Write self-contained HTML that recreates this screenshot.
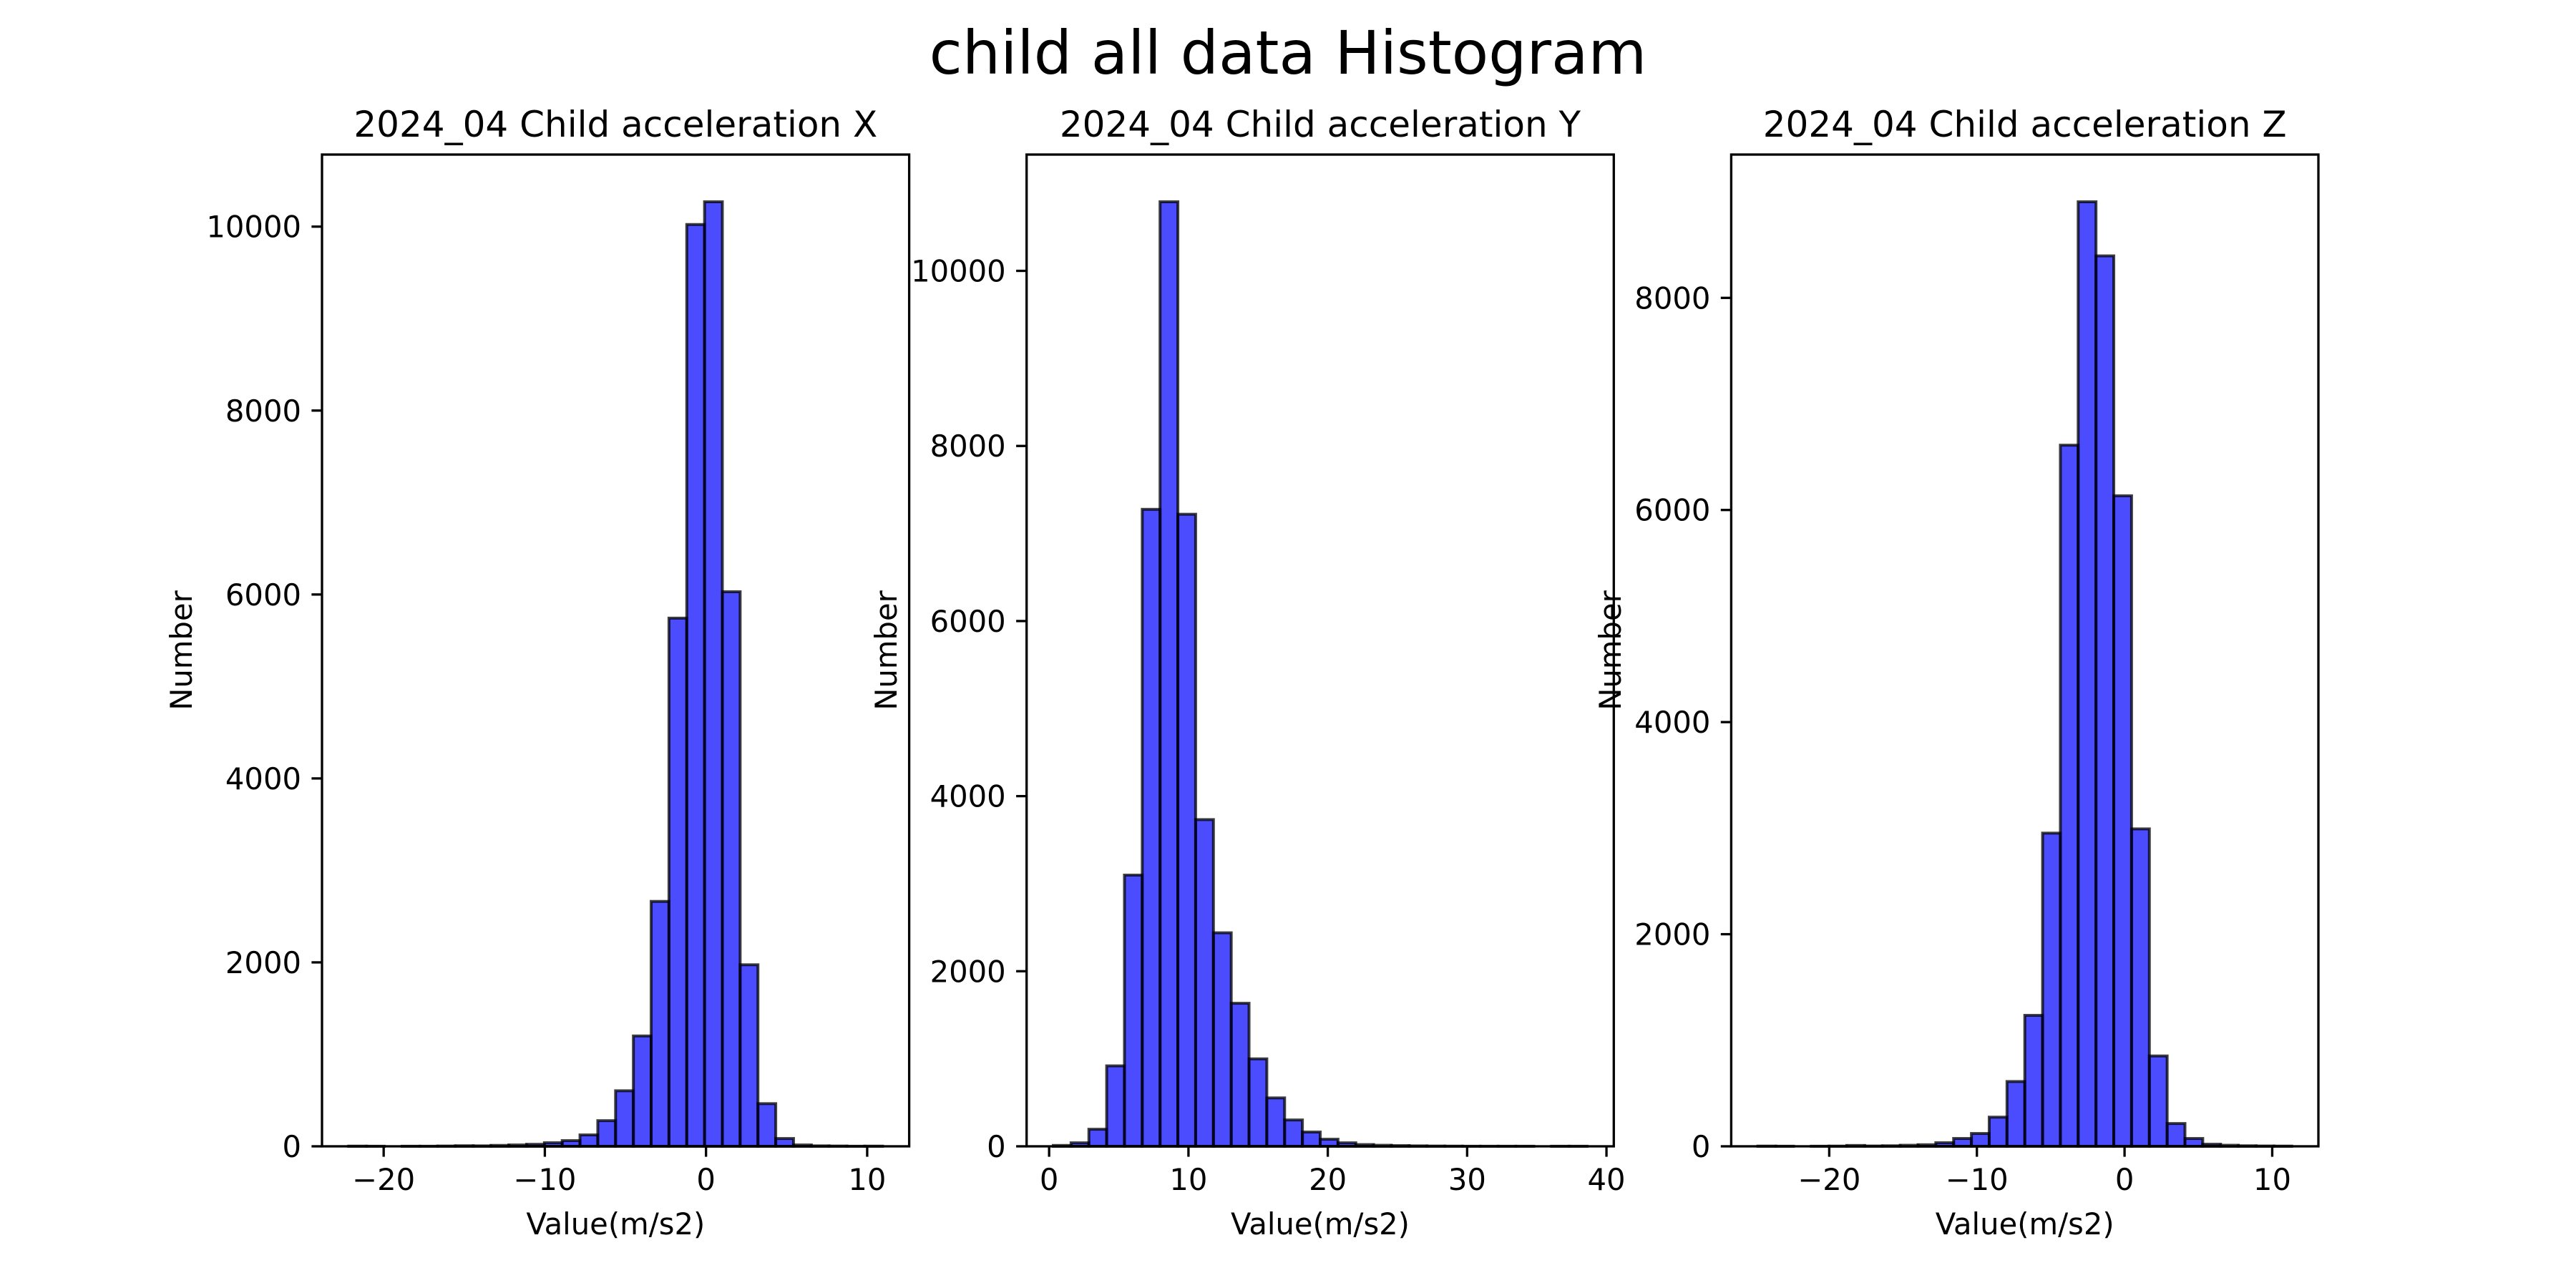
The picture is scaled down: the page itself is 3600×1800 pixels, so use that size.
<!DOCTYPE html>
<html><head><meta charset="utf-8">
<style>
html,body{margin:0;padding:0;background:#fff;}
svg{display:block;font-family:"DejaVu Sans","Liberation Sans",sans-serif;}
</style></head>
<body>
<svg id="fig" width="3600" height="1800" viewBox="0 0 3600 1800" xmlns="http://www.w3.org/2000/svg">
<rect width="3600" height="1800" fill="#fff"/>
<text x="1800" y="103" font-size="84" text-anchor="middle" fill="#000">child all data Histogram</text>
</svg>
<script>
// Panel X
const titlesList = ["2024_04 Child acceleration X", "2024_04 Child acceleration Y", "2024_04 Child acceleration Z"];
const countsX = [2,1,0,1,1,3,6,5,10,15,22,39,62,124,279,604,1200,2663,5743,10023,10270,6030,1974,464,85,15,5,3,1,2];
const binStartX = -22.17;
const binWidthX = 1.104;
const xTicksX = [-20,-10,0,10];
const yTicksX = [0,2000,4000,6000,8000,10000];
// Panel Y
const countsY = [10,40,195,919,3098,7276,10789,7220,3732,2439,1634,999,553,301,163,81,40,20,12,8,5,3,2,1,1,1,1,0,1,1];
const binStartY = 0.3;
const binWidthY = 1.277;
const xTicksY = [0,10,20,30,40];
const yTicksY = [0,2000,4000,6000,8000,10000];
// Panel Z
const countsZ = [2,1,0,1,2,8,3,5,10,15,34,74,121,275,611,1235,2953,6611,8906,8396,6134,2993,852,215,74,20,10,5,3,2];
const binStartZ = -24.83;
const binWidthZ = 1.205;
const xTicksZ = [-20,-10,0,10];
const yTicksZ = [0,2000,4000,6000,8000];

const NS = "http://www.w3.org/2000/svg";
const svg = document.getElementById('fig');
function mk(tag, attrs, parent){
  const e = document.createElementNS(NS, tag);
  for (const k in attrs) e.setAttribute(k, attrs[k]);
  (parent||svg).appendChild(e);
  return e;
}
const TOP = 216, BOT = 1602;
const axW = 820.6, gap = 164.1;
function fmt(v){ return v < 0 ? "\u2212" + Math.abs(v) : String(v); }

function panel(idx, counts, start, width, xt, yt, ylabX){
  const L = 450 + idx*(axW+gap), R = L + axW;
  const lo = start, hi = start + width*counts.length;
  const xmin = lo - 0.05*(hi-lo), xmax = hi + 0.05*(hi-lo);
  const ymax = Math.max(...counts)*1.05;
  const sx = v => L + (v-xmin)/(xmax-xmin)*(R-L);
  const sy = v => BOT - v/ymax*(BOT-TOP);
  const g = mk('g', {});
  
  
  counts.forEach((c,i)=>{
    const x0 = sx(start + i*width), x1 = sx(start + (i+1)*width);
    const r = mk('rect', {x:x0, y:sy(c), width:x1-x0, height:BOT-sy(c), fill:'rgba(0,0,255,0.7)', stroke:'rgba(0,0,0,0.75)', 'stroke-width':4}, g);
    
    
  });
  const frame = mk('rect', {x:L, y:TOP, width:R-L, height:BOT-TOP, fill:'none', stroke:'#000', 'stroke-width':3.3}, g);
  
  
  xt.forEach(v=>{
    const x = sx(v);
    mk('line', {x1:x, x2:x, y1:BOT, y2:BOT+14.6, stroke:'#000', 'stroke-width':3.3}, g);
    const t = mk('text', {x:x, y:1663, 'font-size':41.7, 'text-anchor':'middle', fill:'#000'}, g);
    t.textContent = fmt(v);
    
    
  });
  yt.forEach(v=>{
    const y = sy(v);
    mk('line', {x1:L-14.6, x2:L, y1:y, y2:y, stroke:'#000', 'stroke-width':3.3}, g);
    const t = mk('text', {x:L-29, y:y+15, 'font-size':41.7, 'text-anchor':'end', fill:'#000'}, g);
    t.textContent = fmt(v);
    
    
  });
  const ti = mk('text', {x:(L+R)/2, y:191, 'font-size':50, 'text-anchor':'middle', fill:'#000'}, g);
  ti.textContent = titlesList[idx];
  
  
  const xl = mk('text', {x:(L+R)/2, y:1725, 'font-size':41.7, 'text-anchor':'middle', fill:'#000'}, g);
  xl.textContent = 'Value(m/s2)';
  
  
  const yl = mk('text', {x:0, y:0, 'font-size':41.7, 'text-anchor':'middle', fill:'#000', transform:'translate('+(ylabX+15)+','+((TOP+BOT)/2)+') rotate(-90)'}, g);
  yl.textContent = 'Number';
  
  
}
panel(0, countsX, binStartX, binWidthX, xTicksX, yTicksX, 253);
panel(1, countsY, binStartY, binWidthY, xTicksY, yTicksY, 1238);
panel(2, countsZ, binStartZ, binWidthZ, xTicksZ, yTicksZ, 2250);
</script>
</body></html>
